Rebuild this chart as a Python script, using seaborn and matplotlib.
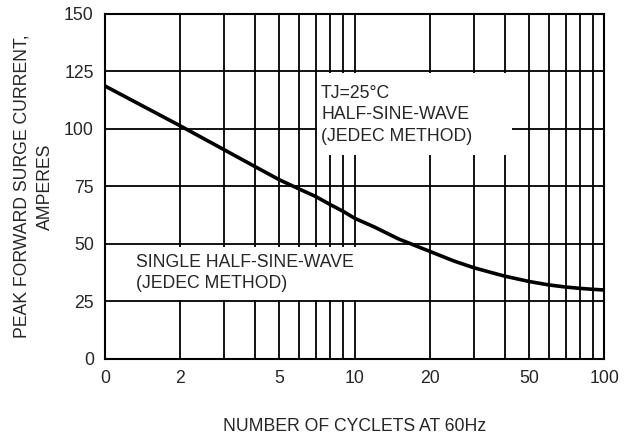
import matplotlib
matplotlib.use("Agg")
import matplotlib.pyplot as plt
import matplotlib.ticker as mticker
import seaborn as sns
import pandas as pd
from matplotlib.patches import Rectangle

# Curva de corriente de pico vs. número de ciclos
cycles = [1, 2, 3, 4, 5, 6, 7, 8, 9, 10, 12, 15, 20, 25, 30, 35, 40, 50, 60, 70, 80, 90, 100]
current = [118.7, 101.4, 91.0, 83.6, 77.9, 73.9, 70.6, 67.1, 64.2, 61.2, 57.4, 52.2,
           46.8, 42.6, 39.7, 37.7, 36.0, 33.7, 32.2, 31.3, 30.7, 30.3, 30.0]

x_ticks = [1, 2, 5, 10, 20, 50, 100]
x_tick_labels = ['0', '2', '5', '10', '20', '50', '100']
y_ticks = [0, 25, 50, 75, 100, 125, 150]
grid_x = list(range(1, 10)) + list(range(10, 101, 10))

df = pd.DataFrame({'cycles': cycles, 'current': current})

sns.set_style("white")
plt.rcParams['font.family'] = ['Liberation Sans', 'DejaVu Sans']

fig = plt.figure(figsize=(6.36, 4.37), dpi=100)
ax = fig.add_axes([0.165, 0.1785, 0.785, 0.7895])

ax.set_xscale('log')
ax.set_xlim(1, 100)
ax.set_ylim(0, 150)

# rejilla
for gx in grid_x:
    ax.axvline(gx, color='black', lw=1.3, zorder=1)
for gy in y_ticks:
    ax.axhline(gy, color='black', lw=1.3, zorder=1)

sns.lineplot(data=df, x='cycles', y='current', color='black', lw=2.6, ax=ax, zorder=4)

# cajas blancas para las notas
ax.add_patch(Rectangle((0.425, 0.59), 0.39, 0.24, transform=ax.transAxes,
                       facecolor='white', edgecolor='none', zorder=2))
ax.add_patch(Rectangle((0.004, 0.172), 0.505, 0.152, transform=ax.transAxes,
                       facecolor='white', edgecolor='none', zorder=2))

ax.text(0.433, 0.795, "TJ=25°C\nHALF-SINE-WAVE\n(JEDEC METHOD)", transform=ax.transAxes,
        fontsize=12.7, va='top', ha='left', linespacing=1.35, zorder=3)
ax.text(0.062, 0.305, "SINGLE HALF-SINE-WAVE\n(JEDEC METHOD)", transform=ax.transAxes,
        fontsize=12.7, va='top', ha='left', linespacing=1.35, zorder=3)

ax.xaxis.set_major_locator(mticker.FixedLocator(x_ticks))
ax.xaxis.set_major_formatter(mticker.FixedFormatter(x_tick_labels))
ax.xaxis.set_minor_locator(mticker.NullLocator())
ax.xaxis.set_minor_formatter(mticker.NullFormatter())
ax.set_yticks(y_ticks)
ax.tick_params(axis='both', which='both', labelsize=12.7, length=0, pad=8)

ax.set_xlabel("NUMBER OF CYCLETS AT 60Hz", fontsize=12.7, labelpad=22)
ax.set_ylabel("PEAK FORWARD SURGE CURRENT,\nAMPERES", fontsize=12.7, labelpad=7,
              linespacing=1.5)

for s in ax.spines.values():
    s.set_color('black')
    s.set_linewidth(1.5)
    s.set_zorder(5)

fig.savefig("out.png", dpi=100)
